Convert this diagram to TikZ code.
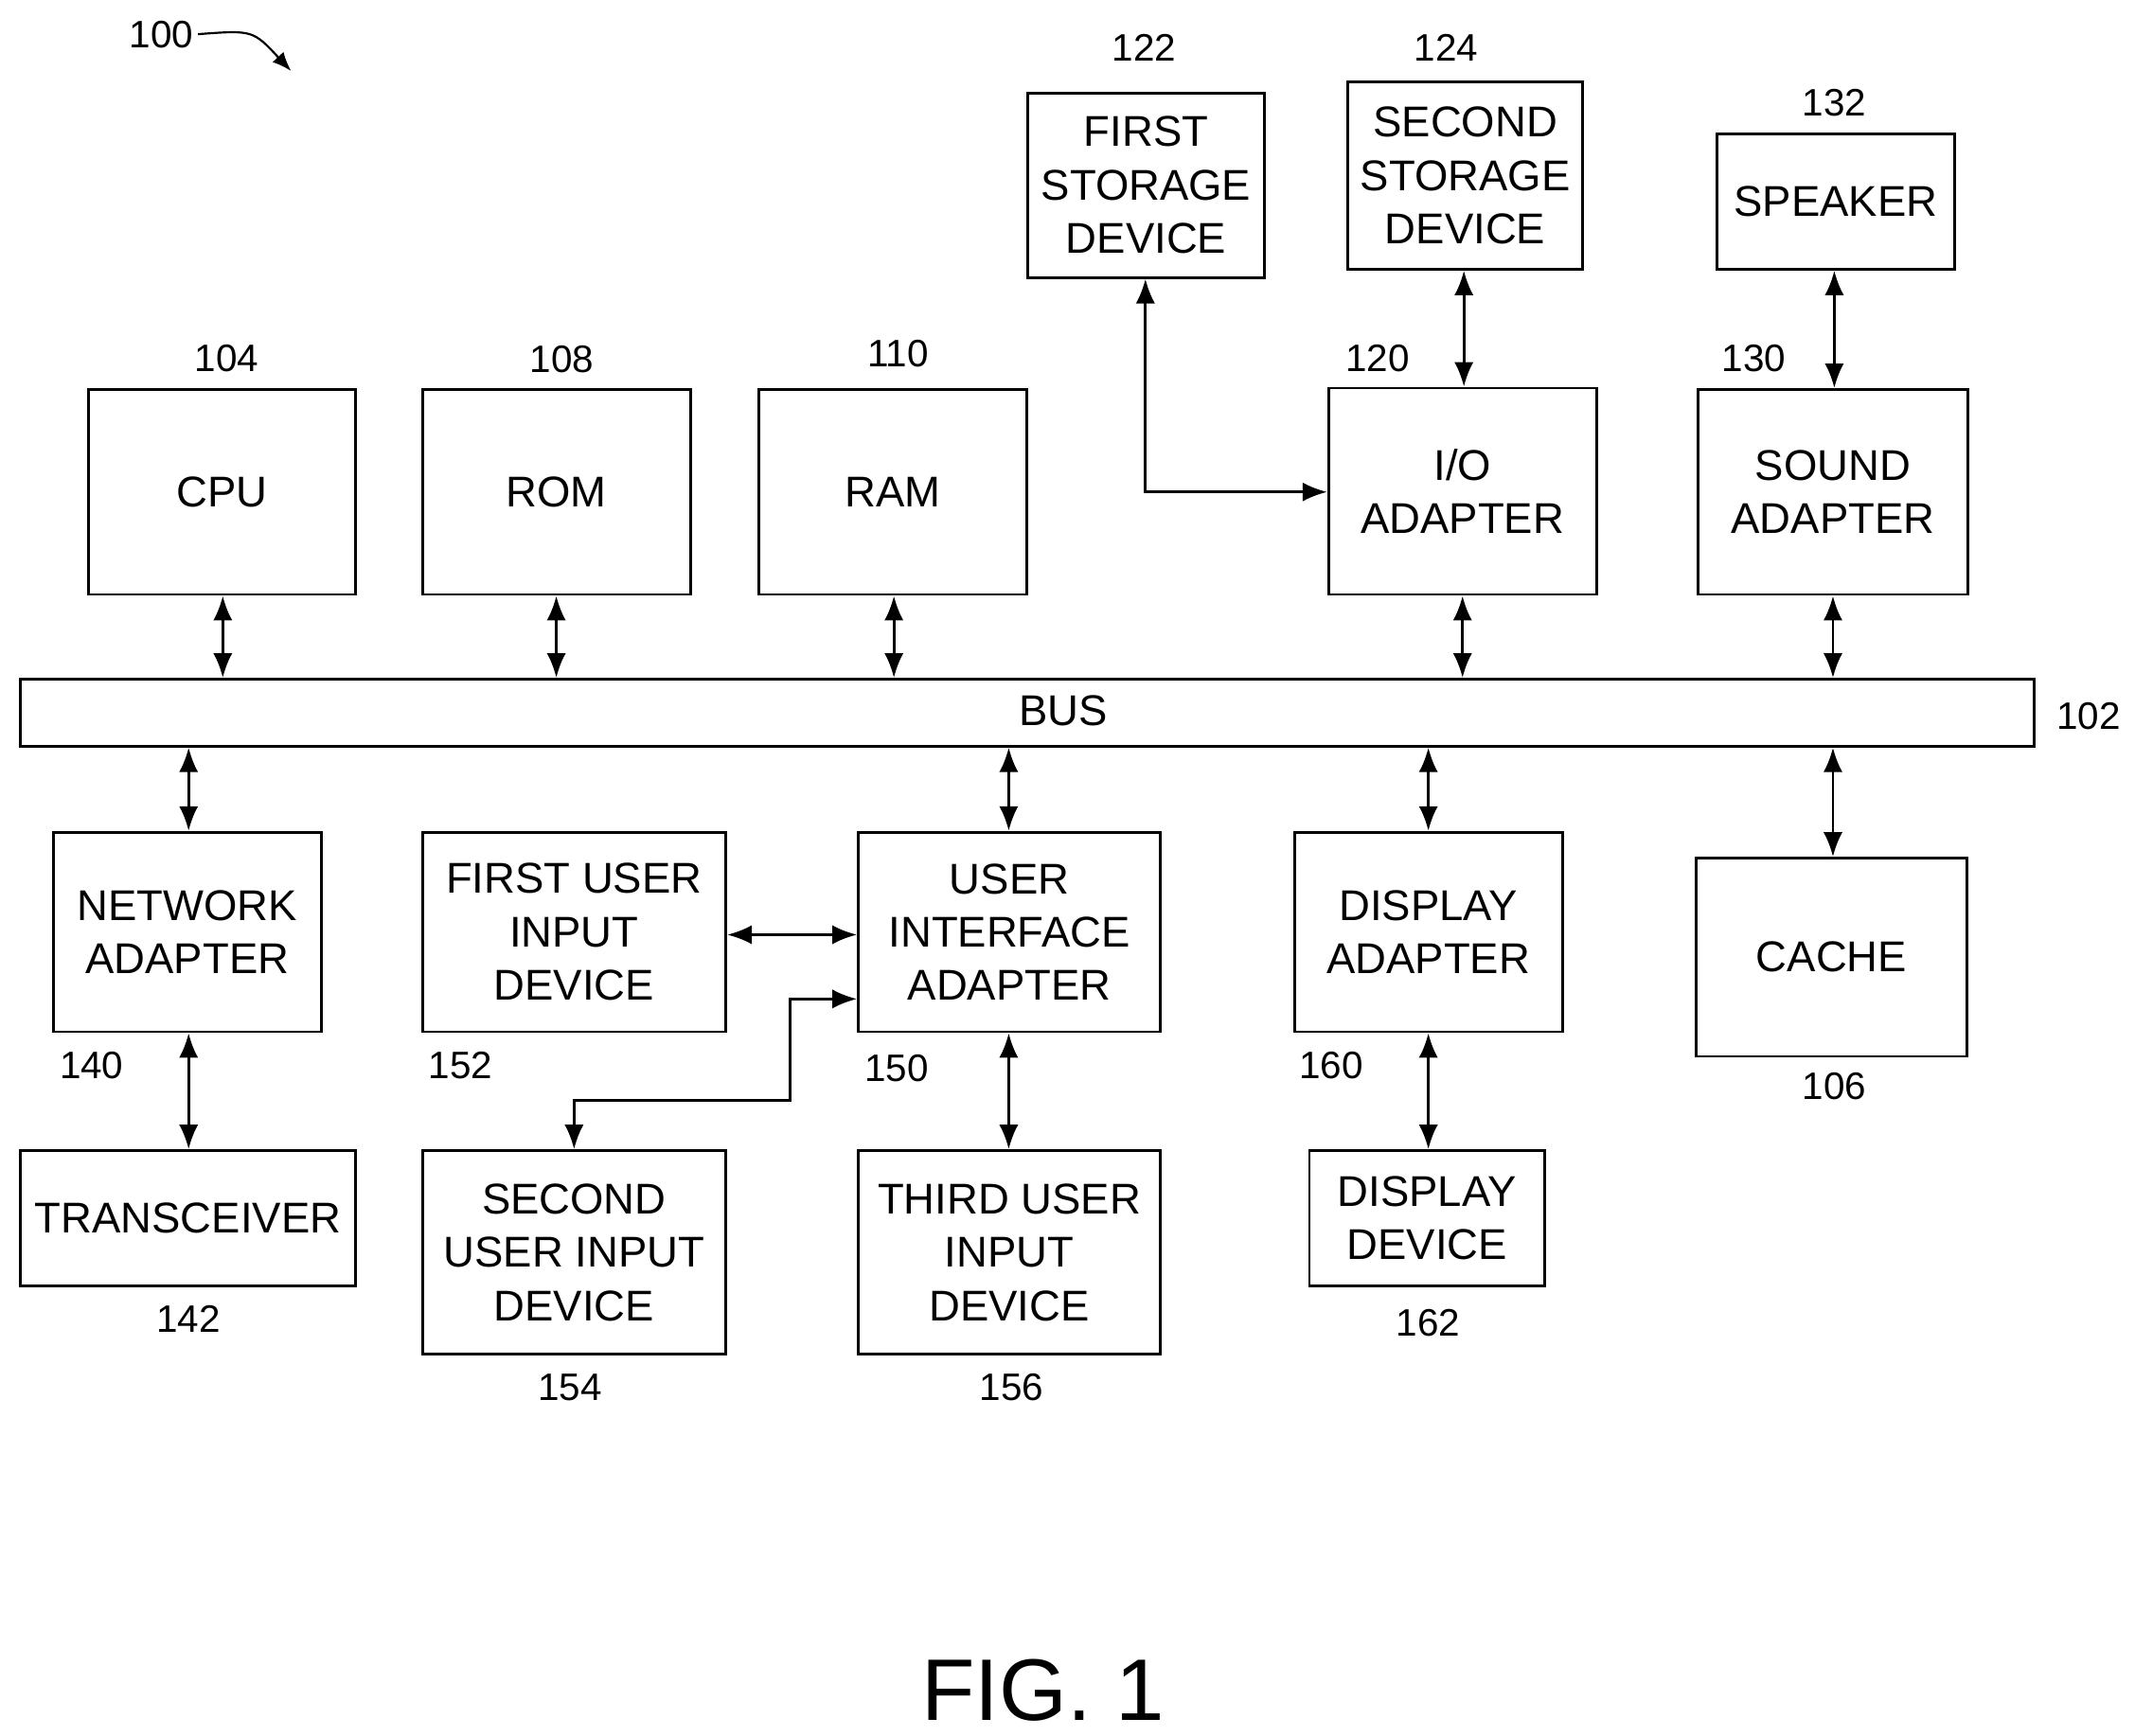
\documentclass[tikz,border=0pt]{standalone}
\usepackage{fontspec}
\setmainfont{Liberation Sans}
\usetikzlibrary{arrows.meta}
\begin{document}
\begin{tikzpicture}[x=1pt,y=-1pt,
 box/.style={draw,line width=2pt,align=center,font=\fontsize{31.5}{39}\selectfont,inner sep=0pt},
 lbl/.style={font=\fontsize{28}{30}\selectfont},
 con/.style={line width=2pt,{Latex[length=18pt,width=14pt]}-{Latex[length=18pt,width=14pt]}}]
\useasboundingbox (0,0) rectangle (1562,1270);
\def\bx#1#2#3#4#5#6{\node[box,minimum width=#4-#2,minimum height=#5-#3] (#1) at ({(#2+#4)/2},{(#3+#5)/2}) {#6};}
\bx{cpu}{65}{285}{260}{435}{CPU}
\bx{rom}{309}{285}{505}{435}{ROM}
\bx{ram}{555}{285}{751}{435}{RAM}
\bx{io}{972}{284}{1168}{435}{I/O\\ADAPTER}
\bx{snd}{1242}{285}{1440}{435}{SOUND\\ADAPTER}
\bx{fs}{752}{68}{925}{203}{FIRST\\STORAGE\\DEVICE}
\bx{ss}{986}{60}{1158}{197}{SECOND\\STORAGE\\DEVICE}
\bx{spk}{1256}{98}{1430}{197}{SPEAKER}
\bx{bus}{15}{497}{1488}{546}{}
\node[font=\fontsize{31.5}{39}\selectfont] (bustext) at (778,520) {BUS};
\bx{net}{39}{609}{235}{755}{NETWORK\\ADAPTER}
\bx{fui}{309}{609}{531}{755}{FIRST USER\\INPUT\\DEVICE}
\bx{uia}{628}{609}{849}{755}{USER\\INTERFACE\\ADAPTER}
\bx{da}{947}{609}{1143}{755}{DISPLAY\\ADAPTER}
\bx{cache}{1241}{628}{1439}{773}{CACHE}
\bx{tr}{15}{842}{260}{941}{TRANSCEIVER}
\bx{sui}{309}{842}{531}{991}{SECOND\\USER INPUT\\DEVICE}
\bx{tui}{628}{842}{849}{991}{THIRD USER\\INPUT\\DEVICE}
\bx{dd}{958}{842}{1130}{941}{DISPLAY\\DEVICE}
\foreach \n/\x/\y/\t in {l104/166/262/104,l108/411/263/108,l110/657/259/110,l120/1008/262/120,l130/1283/262/130,l122/837/35/122,l124/1058/35/124,l132/1342/75/132,l102/1528/524/102,l140/67/780/140,l152/337/780/152,l150/656/782/150,l160/974/780/160,l106/1342/795/106,l142/138/965/142,l154/417/1015/154,l156/740/1015/156,l162/1045/968/162,l100/118/25/100}
  \node[lbl] (\n) at (\x,\y) {\t};
\node[font=\fontsize{64}{70}\selectfont] (fig) at (763,1237) {FIG. 1};
\draw[line width=1.5pt,-{Latex[length=14pt,width=11pt]}] (l100.east) .. controls (185,22) .. (213,52);
\foreach \b/\x in {cpu/163,rom/407,ram/654,io/1070,snd/1341}
  \draw[con] (\b.south -| \x,0) -- (bus.north -| \x,0);
\foreach \b/\x in {net/138,uia/738,da/1045,cache/1341}
  \draw[con] (bus.south -| \x,0) -- (\b.north -| \x,0);
\draw[con] (net.south -| 138,0) -- (tr.north -| 138,0);
\draw[con] (uia.south -| 738,0) -- (tui.north -| 738,0);
\draw[con] (da.south -| 1045,0) -- (dd.north -| 1045,0);
\draw[con] (io.north -| 1071,0) -- (ss.south -| 1071,0);
\draw[con] (snd.north -| 1342,0) -- (spk.south -| 1342,0);
\draw[con] (fs.south -| 838,0) |- (io.west |- 0,360);
\draw[con] (fui.east |- 0,684) -- (uia.west |- 0,684);
\draw[con] (uia.west |- 0,731) -- (578,731) -- (578,805) -- (420,805) -- (sui.north -| 420,0);
\end{tikzpicture}
\end{document}
